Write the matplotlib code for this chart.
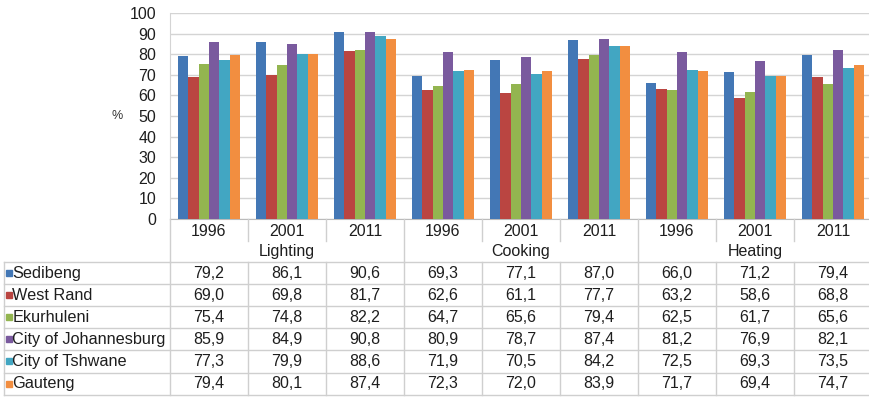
import numpy as np
import matplotlib
matplotlib.use("Agg")
import matplotlib.pyplot as plt
from matplotlib.transforms import blended_transform_factory

plt.rcParams['font.family'] = ['Liberation Sans', 'DejaVu Sans']
plt.rcParams['font.size'] = 11

# --- Data ---
years = ['1996', '2001', '2011'] * 3
uses = ['Lighting', 'Cooking', 'Heating']
regions = ['Sedibeng', 'West Rand', 'Ekurhuleni', 'City of Johannesburg',
           'City of Tshwane', 'Gauteng']

sedibeng = [79.2, 86.1, 90.6, 69.3, 77.1, 87.0, 66.0, 71.2, 79.4]
west_rand = [69.0, 69.8, 81.7, 62.6, 61.1, 77.7, 63.2, 58.6, 68.8]
ekurhuleni = [75.4, 74.8, 82.2, 64.7, 65.6, 79.4, 62.5, 61.7, 65.6]
johannesburg = [85.9, 84.9, 90.8, 80.9, 78.7, 87.4, 81.2, 76.9, 82.1]
tshwane = [77.3, 79.9, 88.6, 71.9, 70.5, 84.2, 72.5, 69.3, 73.5]
gauteng = [79.4, 80.1, 87.4, 72.3, 72.0, 83.9, 71.7, 69.4, 74.7]

series = [sedibeng, west_rand, ekurhuleni, johannesburg, tshwane, gauteng]
colors = ['#4377B5', '#BA4541', '#93B550', '#7A5A9E', '#42A6C2', '#F28E40']

W, H = 869, 397
grid_col = '#D4D4D4'
line_col = '#CFCFCF'
txt_col = '#1E1E1E'

fig = plt.figure(figsize=(W / 100, H / 100), dpi=100)

# --- Bar chart ---
x0, x1 = 170, 872
y_top, y_zero = 13, 219
ax = fig.add_axes([x0 / W, (H - y_zero) / H, (x1 - x0) / W, (y_zero - y_top) / H])

n = len(series)
bw = 0.133
x = np.arange(len(years))
for i, (vals, c) in enumerate(zip(series, colors)):
    ax.bar(x + (i - (n - 1) / 2) * bw, vals, width=bw, color=c, zorder=3)

ax.set_xlim(-0.5, len(years) - 0.5)
ax.set_ylim(0, 100)
ax.set_yticks(range(0, 101, 10))
ax.set_xticks([])
ax.yaxis.grid(True, color=grid_col, linewidth=1)
ax.tick_params(axis='y', length=0, pad=10, labelsize=11.5, colors=txt_col)
for s in ['top', 'right']:
    ax.spines[s].set_visible(False)
ax.spines['left'].set_color(grid_col)
ax.spines['bottom'].set_color('#BBBBBB')
ax.set_ylabel('%', rotation=0, fontsize=9, va='center', ha='center', color='#333333')
ax.yaxis.set_label_coords((117 - x0) / (x1 - x0), 0.5)

# --- Data table under the chart ---
ov = fig.add_axes([0, 0, 1, 1])
ov.set_xlim(0, W)
ov.set_ylim(H, 0)
ov.axis('off')
tr = blended_transform_factory(ax.transData, ov.transData)

row_top = 262
row_h = 22.1
year_y = 231.5
use_y = 251.5
left_px = 4

# year row and use row
for k, yr in enumerate(years):
    ov.text(k, year_y, yr, transform=tr, ha='center', va='center', fontsize=11.5, color=txt_col)
for g, u in enumerate(uses):
    ov.text(3 * g + 1, use_y, u, transform=tr, ha='center', va='center', fontsize=11.5, color=txt_col)

# separators in the header rows
for k in range(len(years) + 1):
    xb = k - 0.5
    if k % 3 == 0:
        ov.plot([xb, xb], [y_zero, row_top], transform=tr, color=line_col, lw=1)
    else:
        ov.plot([xb, xb], [y_zero, y_zero + 22], transform=tr, color=line_col, lw=1)

# value rows
bottom = row_top + row_h * n
for r, (name, vals, c) in enumerate(zip(regions, series, colors)):
    yc = row_top + row_h * (r + 0.5)
    ov.plot([left_px + 4.5], [yc], marker='s', ms=5, color=c)
    ov.text(left_px + 8.5, yc, name, ha='left', va='center', fontsize=11.7, color=txt_col)
    for k, v in enumerate(vals):
        ov.text(k, yc, f'{v:.1f}'.replace('.', ','), transform=tr,
                ha='center', va='center', fontsize=11.5, color=txt_col)

for r in range(n + 1):
    yl = row_top + row_h * r
    ov.plot([left_px, W], [yl, yl], color=line_col, lw=1)
ov.plot([left_px, left_px], [row_top, bottom], color=line_col, lw=1)
for k in range(len(years) + 1):
    xb = k - 0.5
    ov.plot([xb, xb], [row_top, bottom], transform=tr, color=line_col, lw=1)

fig.savefig('out.png', dpi=100)
